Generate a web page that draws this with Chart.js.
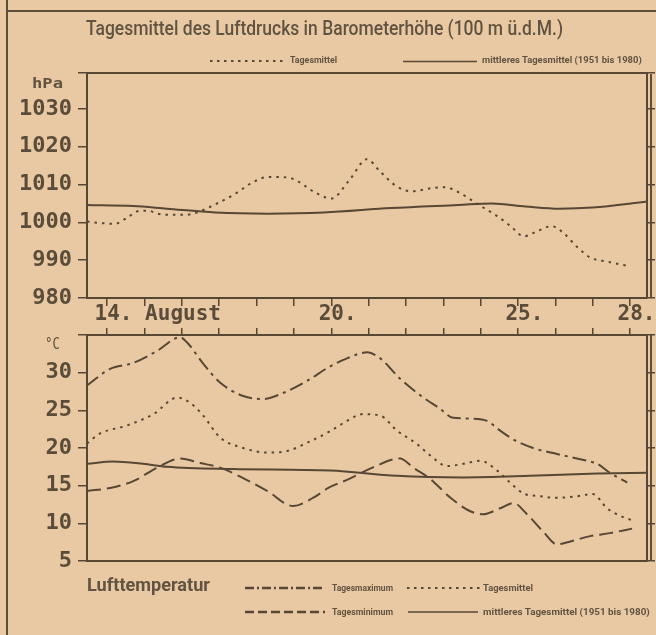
<!DOCTYPE html>
<html lang="de">
<head>
<meta charset="utf-8">
<script src="https://cdn.jsdelivr.net/npm/chart.js@4.4.1/dist/chart.umd.min.js"></script>
<style>
    body { margin: 0; background: #e9c9a4; width: 656px; height: 635px; overflow: hidden; position: relative; color: #615340; }
    .txt { position: absolute; white-space: nowrap; line-height: 1; transform-origin: 0 50%; }
    .linie { position: absolute; background: #5d4e3a; }
    #oben { position: absolute; left: 0; top: 0; }
    #unten { position: absolute; left: 0; top: 300px; }
    svg { position: absolute; left: 0; top: 0; }
</style>
</head>
<body>
<div class="linie" style="left:6px;top:0;width:2px;height:635px"></div>
<div class="linie" style="left:6px;top:10px;width:650px;height:2px"></div>
<div class="linie" style="left:650px;top:74px;width:1.5px;height:224px"></div>
<div class="linie" style="left:650px;top:335px;width:1.5px;height:226px"></div>
<canvas id="oben" width="656" height="330"></canvas>
<canvas id="unten" width="656" height="335"></canvas>
<svg id="legende" width="656" height="635"></svg>

<script>
// Luftdruck, Tagesmittel (hPa), x = Tag im August
const druckTage = [13.46, 13.65, 14.2, 14.5, 14.85, 15.1, 15.35, 15.75, 16.1, 16.4, 16.9, 17.4, 17.9, 18.3, 18.6, 19.0, 19.55, 20.0, 20.5, 20.95, 21.3, 21.75, 22.15, 22.65, 23.05, 23.4, 23.7, 24.05, 24.45, 24.8, 25.15, 25.5, 25.9, 26.2, 26.6, 26.95, 27.4, 27.92];
const druckMittel = [1000.2, 1000, 999.6, 1001, 1003, 1003.1, 1002.3, 1002, 1002, 1002.6, 1004.8, 1007.4, 1010.6, 1012, 1012, 1011.4, 1008, 1006.3, 1011.4, 1016.7, 1013.5, 1009.5, 1008.2, 1009, 1009.3, 1008, 1006.2, 1004, 1001.6, 999, 996.3, 997.6, 999, 997.3, 993.3, 990.6, 989.6, 988.5];
// mittleres Tagesmittel 1951-1980
const druckNormTage = [13.46, 14.7, 15.6, 16.9, 18.3, 19.8, 21.6, 23.4, 24.3, 25.2, 26.1, 27.0, 28.45];
const druckNorm = [1004.6, 1004.3, 1003.6, 1002.6, 1002.3, 1002.6, 1003.8, 1004.6, 1005, 1004.2, 1003.6, 1003.9, 1005.5];

// Lufttemperatur (°C)
const tempMaxTage = [13.46, 14.08, 14.7, 15.34, 15.95, 16.14, 16.57, 17.02, 17.64, 18.18, 18.71, 19.35, 19.92, 20.42, 20.96, 21.31, 21.84, 22.38, 22.91, 23.26, 23.8, 24.17, 24.52, 24.92, 25.4, 26.04, 26.85, 27.12, 27.46, 27.92];
const tempMax = [28.3, 30.5, 31.3, 32.9, 34.7, 34, 31.2, 28.7, 26.9, 26.5, 27.3, 28.9, 30.7, 31.9, 32.7, 31.9, 29.2, 27, 25.2, 24, 23.9, 23.6, 22.3, 21, 20, 19.2, 18.3, 17.9, 16.7, 15.4];
const tempMittelTage = [13.46, 13.8, 14.54, 15.24, 15.88, 16.22, 16.57, 17.02, 17.64, 18.28, 18.82, 19.35, 19.96, 20.42, 20.85, 21.31, 21.76, 22.3, 22.65, 23.1, 23.53, 23.99, 24.44, 24.79, 25.13, 25.59, 26.04, 26.58, 27.0, 27.38, 27.73, 28.05];
const tempMittel = [20.6, 21.9, 23, 24.5, 26.7, 26, 24.3, 21.4, 20, 19.4, 19.6, 20.7, 22.2, 23.6, 24.5, 24.3, 22.3, 20.5, 19, 17.6, 17.9, 18.3, 17, 15.4, 14, 13.6, 13.4, 13.6, 13.9, 12, 11, 10.4];
const tempMinTage = [13.46, 14.08, 14.7, 15.34, 15.95, 16.49, 17.02, 17.64, 18.28, 18.98, 19.52, 19.92, 20.48, 21.1, 21.84, 22.19, 22.65, 23.19, 23.72, 24.06, 24.52, 24.87, 25.24, 25.67, 26.04, 26.4, 26.93, 27.46, 28.05];
const tempMin = [14.3, 14.7, 15.6, 17.4, 18.6, 18, 17.4, 16, 14.3, 12.3, 13.4, 14.7, 15.9, 17.4, 18.6, 17.4, 15.9, 13.4, 11.6, 11.2, 12, 12.7, 11.2, 8.9, 7.2, 7.6, 8.3, 8.7, 9.3];
const tempNormTage = [13.46, 14.16, 14.96, 15.6, 17.37, 19.97, 21.76, 23.53, 25.32, 27.12, 28.45];
const tempNorm = [17.9, 18.2, 17.9, 17.5, 17.2, 17, 16.3, 16.1, 16.3, 16.6, 16.7];

// Beschriftung der Tage (Monospace, führende Leerzeichen zentrieren die Ziffern)
const tagLabels = {14: "        14. August", 20: " 20.", 25: " 25.", 28: " 28."};
const druckTicks = [980, 990, 1000, 1010, 1020, 1030];
const tempTicks = [5, 10, 15, 20, 25, 30];

const tinte = "#574734";
const schrift = "#5a4c39";
const xMin = 13.46, xMax = 28.45;

function punkte(tage, werte) {
    return tage.map(function (t, i) { return {x: t, y: werte[i]}; });
}

function linienSet(label, daten, dash) {
    return {
        label: label,
        data: daten,
        borderColor: tinte,
        borderWidth: 2,
        borderDash: dash,
        pointRadius: 0,
        fill: false,
        cubicInterpolationMode: "monotone"
    };
}

Chart.defaults.font.family = "DejaVu Sans Mono";
Chart.defaults.color = schrift;

function achsen(yMin, yMax, schritt, ticks, xUnten, xOben, hoeheUnten, hoeheOben) {
    return {
        x: {
            type: "linear", position: "bottom", min: xMin, max: xMax,
            ticks: {
                display: xUnten, stepSize: 1, includeBounds: false, autoSkip: false, maxRotation: 0,
                padding: -2, font: {size: 21, lineHeight: 1, weight: "bold"}, color: schrift,
                callback: function (v) { return tagLabels[v] || ""; }
            },
            grid: {drawOnChartArea: false, drawTicks: xUnten, tickLength: 8, color: tinte, lineWidth: 1.5},
            border: {color: tinte, width: 2},
            afterFit: function (s) { s.height = hoeheUnten; s.paddingLeft = 0; s.paddingRight = 0; }
        },
        xOben: {
            type: "linear", position: "top", min: xMin, max: xMax,
            ticks: {display: false, stepSize: 1, includeBounds: false, autoSkip: false},
            grid: {drawOnChartArea: false, drawTicks: xOben, tickLength: 7, color: tinte, lineWidth: 1.5},
            border: {color: tinte, width: 2},
            afterFit: function (s) { s.height = hoeheOben; s.paddingLeft = 0; s.paddingRight = 0; }
        },
        y: {
            position: "left", min: yMin, max: yMax,
            ticks: {
                stepSize: schritt, padding: 6, font: {size: 22, weight: "bold"}, color: schrift,
                callback: function (v) { return ticks.indexOf(v) >= 0 ? v : ""; }
            },
            grid: {drawOnChartArea: false, tickLength: 9, color: tinte, lineWidth: 1.5},
            border: {color: tinte, width: 2},
            afterFit: function (s) { s.width = 87; s.paddingTop = 0; s.paddingBottom = 0; }
        },
        yRechts: {
            position: "right", min: yMin, max: yMax,
            ticks: {display: false, stepSize: schritt},
            grid: {drawOnChartArea: false, tickLength: 8, color: tinte, lineWidth: 1.5},
            border: {color: tinte, width: 2},
            afterFit: function (s) { s.width = 9; s.paddingTop = 0; s.paddingBottom = 0; }
        }
    };
}

var grundOptionen = {
    responsive: false,
    animation: false,
    devicePixelRatio: 1,
    plugins: {legend: {display: false}, tooltip: {enabled: false}}
};

new Chart("oben", {
    type: "line",
    data: {
        datasets: [
            linienSet("Tagesmittel", punkte(druckTage, druckMittel), [2.5, 5]),
            linienSet("mittleres Tagesmittel (1951 bis 1980)", punkte(druckNormTage, druckNorm), [])
        ]
    },
    options: Object.assign({}, grundOptionen, {
        layout: {padding: {top: 73, left: 0, right: 0, bottom: 0}},
        scales: achsen(980, 1039.5, 10, druckTicks, true, false, 32, 0)
    })
});

new Chart("unten", {
    type: "line",
    data: {
        datasets: [
            linienSet("Tagesmaximum", punkte(tempMaxTage, tempMax), [14, 5, 3, 5]),
            linienSet("Tagesmittel", punkte(tempMittelTage, tempMittel), [2.5, 5]),
            linienSet("Tagesminimum", punkte(tempMinTage, tempMin), [14, 6]),
            linienSet("mittleres Tagesmittel (1951 bis 1980)", punkte(tempNormTage, tempNorm), [])
        ]
    },
    options: Object.assign({}, grundOptionen, {
        layout: {padding: 0},
        scales: achsen(5, 35, 5, tempTicks, false, true, 74, 35)
    })
});

// Texte: Breite wird auf die Vorlage gestaucht
var messen = document.createElement("canvas").getContext("2d");
function text(inhalt, links, mitteY, groesse, breite, familie, gewicht) {
    var el = document.createElement("div");
    el.className = "txt";
    el.textContent = inhalt;
    el.style.fontFamily = familie;
    el.style.fontWeight = gewicht;
    el.style.fontSize = groesse + "px";
    el.style.left = links + "px";
    el.style.top = (mitteY - groesse * 0.49) + "px";
    messen.font = gewicht + " " + groesse + "px " + familie;
    var w = messen.measureText(inhalt).width;
    el.style.transform = "scaleX(" + (breite / w) + ")";
    document.body.appendChild(el);
}

text("Tagesmittel des Luftdrucks in Barometerhöhe (100 m ü.d.M.)", 86, 28, 20, 477, "Roboto", "500");
text("Tagesmittel", 290, 60, 9, 47, "Roboto", "700");
text("mittleres Tagesmittel (1951 bis 1980)", 482, 60, 9, 160, "Roboto", "700");
text("hPa", 32, 83, 14, 31, "DejaVu Sans Mono", "700");
text("°C", 45, 344, 15, 15, "DejaVu Sans Mono", "400");
text("Lufttemperatur", 87, 585, 18, 123, "Roboto", "700");
text("Tagesmaximum", 332, 588, 9, 61, "Roboto", "700");
text("Tagesmittel", 483, 588, 9, 50, "Roboto", "700");
text("Tagesminimum", 332, 612, 9, 61, "Roboto", "700");
text("mittleres Tagesmittel (1951 bis 1980)", 483, 612, 9, 167, "Roboto", "700");

// Linienmuster der Legende
function muster(x1, x2, y, dash, breite) {
    var l = document.createElementNS("http://www.w3.org/2000/svg", "line");
    l.setAttribute("x1", x1);
    l.setAttribute("x2", x2);
    l.setAttribute("y1", y);
    l.setAttribute("y2", y);
    l.setAttribute("stroke", tinte);
    l.setAttribute("stroke-width", breite);
    if (dash) l.setAttribute("stroke-dasharray", dash);
    document.getElementById("legende").appendChild(l);
}
muster(210, 283, 61, "2.5 4.5", 2);
muster(403, 477, 61.5, "", 1.5);
muster(245, 325, 588, "9 3 2 3", 2.5);
muster(407, 480, 588, "2.5 4.5", 2);
muster(245, 325, 612, "9 4", 2.5);
muster(408, 478, 612, "", 1.5);
</script>
</body>
</html>
